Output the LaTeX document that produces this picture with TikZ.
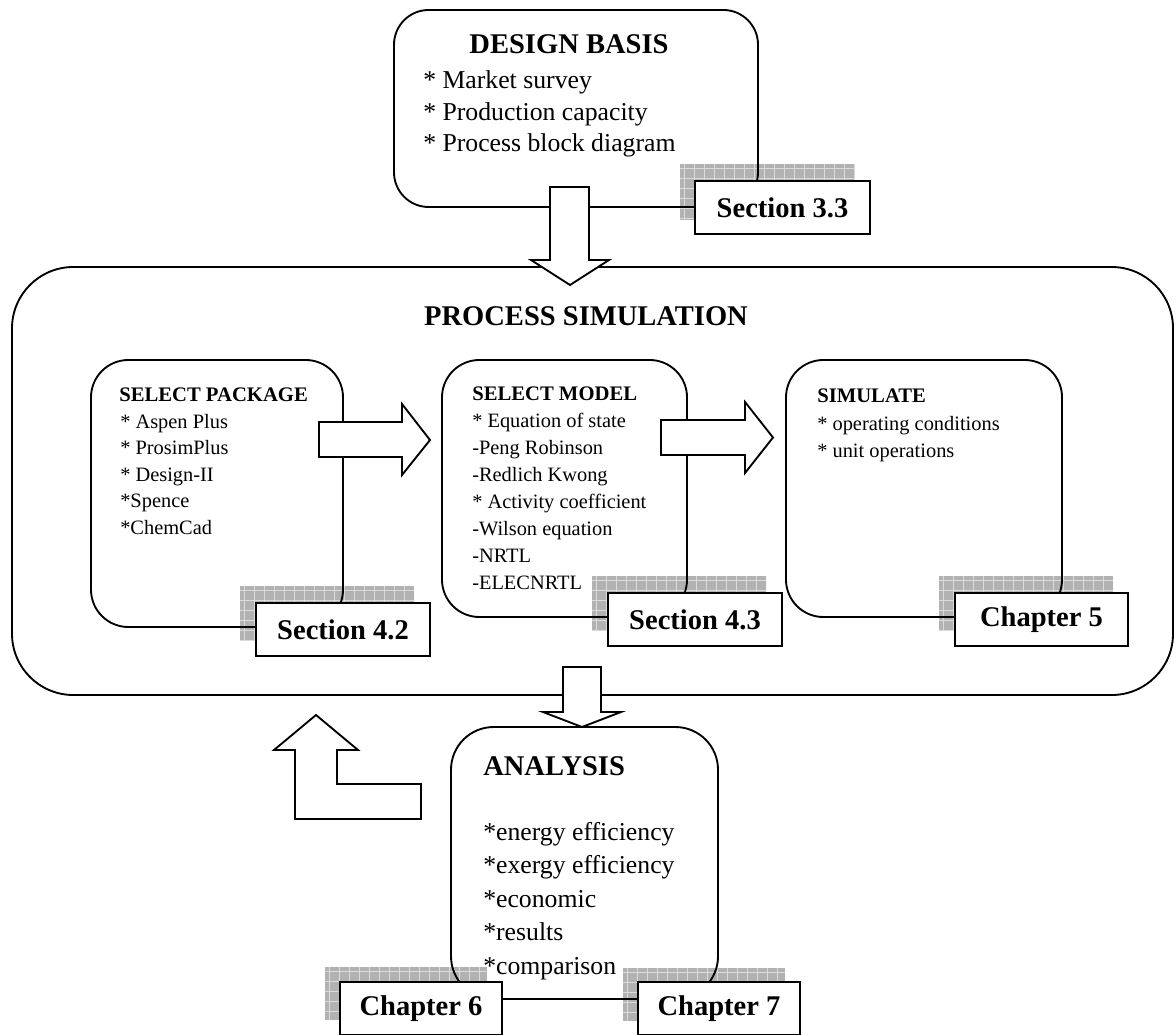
\documentclass[tikz,border=0pt]{standalone}
\usepackage{fontspec}
\setmainfont{Liberation Serif}
\usetikzlibrary{fit}

\definecolor{shadowfill}{gray}{0.70}
\definecolor{shadowline}{gray}{0.86}

\tikzset{
  frame/.style={draw=black, line width=1.4pt, inner sep=0pt, rounded corners=#1},
  secbox/.style={draw=black, fill=white, line width=1.4pt, inner sep=0pt,
    minimum width=#1, minimum height=39.75pt,
    font=\fontsize{21.4}{24}\selectfont\bfseries},
  blockarrow/.style={draw=black, fill=white, line width=1.4pt, line join=miter},
  bighead/.style={font=\fontsize{21.4}{24}\selectfont\bfseries, inner sep=0pt},
  bigtext/.style={font=\fontsize{19.3}{22}\selectfont, inner sep=0pt, anchor=base west},
  smallhead/.style={font=\fontsize{15.5}{18}\selectfont\bfseries, inner sep=0pt, anchor=base west},
  smalltext/.style={font=\fontsize{15.3}{18}\selectfont, inner sep=0pt, anchor=base west},
}

% hatched grey drop shadow behind a label box
\newcommand\gridshadow[4]{%
  \fill[shadowfill] (#1,#2) rectangle (#3,#4);
  \begin{scope}
    \clip (#1,#2) rectangle (#3,#4);
    \foreach \k in {0,...,18} {
      \draw[shadowline, line width=0.6pt] ({#1+4+\k*10},#2) -- ({#1+4+\k*10},#4);
    }
    \foreach \k in {0,...,6} {
      \draw[shadowline, line width=0.6pt] (#1,{#2+4+\k*10}) -- (#3,{#2+4+\k*10});
    }
  \end{scope}}

\begin{document}
\begin{tikzpicture}[x=0.75pt, y=-0.75pt]
\useasboundingbox (0,0) rectangle (1176,1034);

% ---- shadows of the reference labels
\gridshadow{680}{164}{855}{220}
\gridshadow{240}{586}{414}{641}
\gridshadow{592}{576}{766}{631}
\gridshadow{939}{576}{1113}{631}
\gridshadow{325}{967}{487}{1020}
\gridshadow{623}{968}{785}{1021}

% ---- rounded stage boxes
\node[frame=26pt, fit={(394,10) (758,207)}] (basis) {};
\node[frame=46pt, fit={(12,267) (1173,695)}] (sim) {};
\node[frame=28pt, fit={(91,360) (343,627)}] (pkg) {};
\node[frame=28pt, fit={(442,360) (687,617)}] (model) {};
\node[frame=28pt, fit={(786,360) (1062,617)}] (simulate) {};
\node[frame=32pt, fit={(451,727) (718,999)}] (analysis) {};

% ---- block arrows between the stages
\draw[blockarrow] (550,187) -- (589,187) -- (589,260) -- (609,260) -- (570,285)
  -- (531,260) -- (550,260) -- cycle;
\draw[blockarrow] (319,422) -- (402,422) -- (402,404) -- (430,440) -- (402,475)
  -- (402,457) -- (319,457) -- cycle;
\draw[blockarrow] (661,420) -- (745,420) -- (745,402) -- (773,437.5) -- (745,473)
  -- (745,455) -- (661,455) -- cycle;
\draw[blockarrow] (563,667) -- (601,667) -- (601,712) -- (621,712) -- (582,727)
  -- (543,712) -- (563,712) -- cycle;
% feedback arrow from the analysis back to the simulation
\draw[blockarrow] (316,715) -- (358,750) -- (337,750) -- (337,784) -- (421,784)
  -- (421,819) -- (295,819) -- (295,750) -- (274,750) -- cycle;

% ---- reference labels
\node[secbox=131.25pt] (s33) at (782.5,207.5) {Section 3.3};
\node[secbox=130.5pt] (s42) at (343,629.5) {Section 4.2};
\node[secbox=130.5pt] (s43) at (695,619.5) {Section 4.3};
\node[secbox=129.75pt] (ch5) at (1041.5,619.5) {Chapter 5};
\node[secbox=121.5pt] (ch6) at (421,1008.5) {Chapter 6};
\node[secbox=121.5pt] (ch7) at (719,1008.5) {Chapter 7};

% ---- design basis
\node[bighead, anchor=base] (basisT) at (569,54) {DESIGN BASIS};
\node[bigtext] (b1) at (423,89) {* Market survey};
\node[bigtext] (b2) at (423,120.5) {* Production capacity};
\node[bigtext] (b3) at (423,152) {* Process block diagram};

% ---- process simulation
\node[bighead, anchor=base] (simT) at (586,325) {PROCESS SIMULATION};

\node[smallhead] (pkgT) at (119,401) {SELECT PACKAGE};
\node[smalltext] (p1) at (120,428) {* Aspen Plus};
\node[smalltext] (p2) at (120,454.5) {* ProsimPlus};
\node[smalltext] (p3) at (120,481) {* Design-II};
\node[smalltext] (p4) at (120,507.5) {*Spence};
\node[smalltext] (p5) at (120,534) {*ChemCad};

\node[smallhead] (modelT) at (472,400) {SELECT MODEL};
\node[smalltext] (m1) at (472,427) {* Equation of state};
\node[smalltext] (m2) at (472,454) {-Peng Robinson};
\node[smalltext] (m3) at (472,481) {-Redlich Kwong};
\node[smalltext] (m4) at (472,508) {* Activity coefficient};
\node[smalltext] (m5) at (472,535) {-Wilson equation};
\node[smalltext] (m6) at (472,562) {-NRTL};
\node[smalltext] (m7) at (472,589) {-ELECNRTL};

\node[smallhead] (simulateT) at (817,402) {SIMULATE};
\node[smalltext] (s1) at (817,430) {* operating conditions};
\node[smalltext] (s2) at (817,457) {* unit operations};

% ---- analysis
\node[bighead, anchor=base west] (analysisT) at (483,775) {ANALYSIS};
\node[bigtext] (a1) at (483,840) {*energy efficiency};
\node[bigtext] (a2) at (483,873.5) {*exergy efficiency};
\node[bigtext] (a3) at (483,907) {*economic};
\node[bigtext] (a4) at (483,940.5) {*results};
\node[bigtext] (a5) at (483,974) {*comparison};
\end{tikzpicture}
\end{document}
